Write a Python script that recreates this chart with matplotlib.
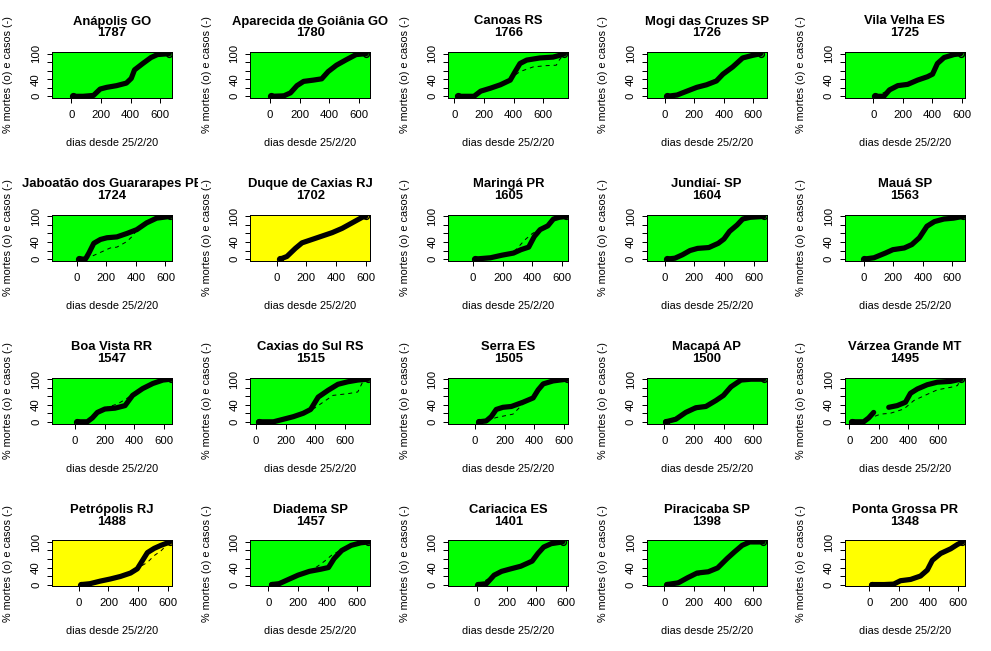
import numpy as np
import matplotlib
matplotlib.use('Agg')
import matplotlib.pyplot as plt
from matplotlib.transforms import Bbox, TransformedBbox

plt.rcParams['font.family'] = ['Liberation Sans', 'DejaVu Sans']

NAN = np.nan

# ---------------- data ----------------
cities = ["Anápolis GO", "Aparecida de Goiânia GO", "Canoas RS", "Mogi das Cruzes SP", "Vila Velha ES",
          "Jaboatão dos Guararapes PE", "Duque de Caxias RJ", "Maringá PR", "Jundiaí- SP", "Mauá SP",
          "Boa Vista RR", "Caxias do Sul RS", "Serra ES", "Macapá AP", "Várzea Grande MT",
          "Petrópolis RJ", "Diadema SP", "Cariacica ES", "Piracicaba SP", "Ponta Grossa PR"]
numbers = [1787, 1780, 1766, 1726, 1725, 1724, 1702, 1605, 1604, 1563,
           1547, 1515, 1505, 1500, 1495, 1488, 1457, 1401, 1398, 1348]
flag = ["g", "g", "g", "g", "g", "g", "y", "g", "g", "g",
        "g", "g", "g", "g", "g", "y", "g", "g", "g", "y"]

anapolis_d_days = [13, 80, 150, 195, 239, 306, 372, 405, 427, 483, 538, 582, 660]
anapolis_d_pct = [0, 0, 2, 17, 21, 25, 31, 42, 62, 77, 91, 98, 100]
anapolis_c_days = [13, 150, 239, 330, 380, 405, 427, 483, 582, 660]
anapolis_c_pct = [0, 2, 21, 28, 35, 48, 62, 77, 97, 100]

aparecida_d_days = [9, 93, 138, 182, 227, 293, 349, 393, 449, 516, 582, 649]
aparecida_d_pct = [0, 1, 8, 25, 35, 38, 41, 58, 73, 86, 98, 100]
aparecida_c_days = [9, 138, 227, 349, 393, 449, 516, 582, 649]
aparecida_c_pct = [0, 8, 35, 41, 57, 70, 82, 95, 100]

canoas_d_days = [22, 133, 178, 244, 311, 378, 411, 444, 489, 578, 667, 711, 744]
canoas_d_pct = [0, 0, 12, 19, 27, 38, 58, 77, 85, 90, 92, 96, 100]
canoas_c_days = [22, 133, 178, 244, 311, 378, 411, 444, 533, 622, 689, 711, 744]
canoas_c_pct = [0, 0, 12, 19, 27, 38, 50, 58, 69, 72, 73, 86, 100]

mogi_d_days = [18, 84, 150, 217, 283, 350, 394, 460, 527, 593, 649]
mogi_d_pct = [0, 3, 12, 21, 27, 36, 52, 69, 90, 96, 100]
mogi_c_days = [18, 150, 283, 394, 460, 527, 593, 649]
mogi_c_pct = [0, 11, 26, 51, 69, 89, 96, 100]

vilavelha_d_days = [13, 72, 110, 166, 233, 300, 367, 401, 434, 479, 546, 591]
vilavelha_d_pct = [0, 0, 15, 25, 28, 38, 46, 52, 77, 91, 98, 100]
vilavelha_c_days = [13, 110, 166, 300, 401, 434, 479, 546, 591]
vilavelha_c_pct = [0, 14, 24, 37, 51, 76, 90, 98, 100]

jaboatao_d_days = [18, 60, 83, 116, 161, 205, 272, 339, 406, 473, 540, 629]
jaboatao_d_pct = [0, 0, 14, 37, 46, 50, 52, 60, 69, 85, 96, 100]
jaboatao_c_days = [60, 138, 227, 272, 339, 384, 406, 473, 540, 629]
jaboatao_c_pct = [0, 12, 26, 28, 41, 56, 69, 85, 95, 100]

duque_d_days = [23, 68, 125, 170, 238, 306, 374, 441, 509, 577, 600]
duque_d_pct = [0, 6, 25, 38, 46, 54, 62, 72, 85, 98, 100]
duque_c_days = [40, 80, 125, 170, 238, 374, 509, 600]
duque_c_pct = [0, 6, 22, 36, 45, 61, 84, 100]

maringa_d_days = [15, 118, 195, 273, 324, 376, 414, 453, 505, 543, 582, 628]
maringa_d_pct = [0, 3, 9, 14, 22, 28, 53, 69, 78, 94, 98, 100]
maringa_c_days = [15, 118, 195, 273, 298, 350, 401, 453, 505, 543, 582, 628]
maringa_c_pct = [0, 3, 9, 16, 25, 45, 60, 70, 79, 94, 98, 100]

jundiai_d_days = [18, 69, 120, 171, 222, 298, 362, 400, 438, 489, 527, 578, 668]
jundiai_d_pct = [0, 2, 10, 20, 25, 27, 37, 47, 65, 80, 94, 98, 100]
jundiai_c_days = [18, 120, 222, 362, 438, 527, 668]
jundiai_c_pct = [0, 9, 24, 36, 64, 93, 100]

maua_d_days = [6, 70, 147, 198, 275, 326, 377, 428, 479, 543, 607, 671]
maua_d_pct = [0, 3, 14, 22, 26, 34, 50, 77, 88, 94, 96, 100]
maua_c_days = [6, 147, 275, 377, 428, 479, 543, 607, 671]
maua_c_pct = [0, 13, 25, 49, 72, 86, 93, 96, 100]

boavista_d_days = [15, 83, 117, 151, 202, 270, 338, 389, 457, 526, 594, 645]
boavista_d_pct = [0, 0, 9, 22, 30, 32, 38, 62, 78, 90, 98, 100]
boavista_c_days = [15, 83, 117, 151, 202, 287, 338, 389, 457, 526, 594, 645]
boavista_c_pct = [0, 0, 9, 22, 32, 42, 52, 64, 78, 90, 98, 100]

caxias_d_days = [17, 117, 184, 251, 318, 368, 419, 486, 552, 619, 686, 753]
caxias_d_pct = [0, 0, 6, 12, 20, 29, 58, 74, 88, 94, 98, 100]
caxias_c_days = [17, 117, 184, 251, 318, 385, 452, 519, 619, 686, 720, 753]
caxias_c_pct = [0, 0, 6, 12, 20, 30, 46, 62, 66, 70, 94, 100]

serra_d_days = [25, 75, 109, 143, 188, 245, 324, 392, 426, 460, 527, 618]
serra_d_pct = [0, 2, 12, 29, 34, 36, 46, 56, 75, 89, 96, 100]
serra_c_days = [25, 75, 143, 256, 324, 392, 426, 460, 527, 618]
serra_c_pct = [0, 2, 10, 18, 42, 55, 74, 88, 96, 100]

macapa_d_days = [9, 77, 144, 212, 280, 348, 399, 449, 517, 585, 670]
macapa_d_pct = [0, 6, 22, 33, 36, 50, 62, 82, 98, 100, 100]
macapa_c_days = [9, 144, 280, 399, 517, 670]
macapa_c_pct = [0, 21, 35, 61, 97, 100]

varzea_d_days = [18, 97, 131, 165, 215, 267, 324, 380, 414, 460, 527, 595, 686, 754]
varzea_d_pct = [0, 0, 9, 22, NAN, 34, 38, 46, 67, 77, 87, 93, 95, 100]
varzea_c_days = [18, 75, 143, 211, 278, 369, 437, 505, 595, 686, 731, 754]
varzea_c_pct = [0, 1, 9, 18, 20, 30, 50, 61, 75, 81, 85, 100]

petropolis_d_days = [18, 75, 144, 212, 281, 349, 395, 429, 463, 509, 554, 600, 615]
petropolis_d_pct = [0, 2, 8, 13, 19, 27, 37, 56, 75, 85, 92, 98, 100]
petropolis_c_days = [18, 144, 281, 395, 429, 463, 509, 554, 600, 623]
petropolis_c_pct = [0, 8, 19, 37, 45, 52, 68, 79, 95, 100]

diadema_d_days = [21, 72, 123, 200, 277, 354, 406, 444, 496, 560, 624, 675]
diadema_d_pct = [0, 2, 10, 22, 31, 36, 40, 61, 80, 92, 98, 100]
diadema_c_days = [21, 123, 200, 277, 329, 380, 431, 496, 560, 624, 675]
diadema_c_pct = [0, 10, 22, 32, 42, 55, 70, 82, 92, 98, 100]

cariacica_d_days = [8, 64, 116, 167, 219, 296, 373, 412, 451, 502, 579]
cariacica_d_pct = [0, 2, 22, 31, 36, 43, 55, 73, 88, 96, 100]
cariacica_c_days = [8, 116, 219, 373, 451, 579]
cariacica_c_pct = [0, 21, 35, 54, 87, 100]

piracicaba_d_days = [17, 94, 157, 221, 297, 360, 424, 475, 526, 577, 666]
piracicaba_d_pct = [0, 4, 16, 27, 30, 39, 61, 77, 92, 100, 100]
piracicaba_c_days = [17, 157, 297, 360, 424, 475, 526, 577, 666]
piracicaba_c_pct = [0, 15, 29, 41, 63, 78, 92, 99, 100]

pontagrossa_d_days = [18, 100, 165, 211, 279, 346, 392, 426, 482, 550, 595, 629]
pontagrossa_d_pct = [0, 0, 1, 9, 12, 20, 34, 57, 73, 84, 94, 100]
pontagrossa_c_days = [18, 165, 279, 346, 392, 426, 482, 550, 629]
pontagrossa_c_pct = [0, 1, 12, 22, 36, 57, 72, 84, 100]

x_ticks = [0, 200, 400, 600]
y_ticks = [0, 20, 40, 60, 80, 100]
y_ticklabels = ["0", "", "40", "", "", "100"]

# layout (x-limits per panel)
xlims = [(-130, 680), (-134, 677), (-40, 771), (-122, 689), (-192, 619),
         (-166, 644), (-180, 631), (-166, 644), (-122, 688), (-127, 684),
         (-155, 655), (-40, 770), (-180, 630), (-120, 690), (-30, 781),
         (-181, 629), (-123, 688), (-193, 618), (-120, 691), (-165, 645)]

series = [
    (anapolis_d_days, anapolis_d_pct, anapolis_c_days, anapolis_c_pct),
    (aparecida_d_days, aparecida_d_pct, aparecida_c_days, aparecida_c_pct),
    (canoas_d_days, canoas_d_pct, canoas_c_days, canoas_c_pct),
    (mogi_d_days, mogi_d_pct, mogi_c_days, mogi_c_pct),
    (vilavelha_d_days, vilavelha_d_pct, vilavelha_c_days, vilavelha_c_pct),
    (jaboatao_d_days, jaboatao_d_pct, jaboatao_c_days, jaboatao_c_pct),
    (duque_d_days, duque_d_pct, duque_c_days, duque_c_pct),
    (maringa_d_days, maringa_d_pct, maringa_c_days, maringa_c_pct),
    (jundiai_d_days, jundiai_d_pct, jundiai_c_days, jundiai_c_pct),
    (maua_d_days, maua_d_pct, maua_c_days, maua_c_pct),
    (boavista_d_days, boavista_d_pct, boavista_c_days, boavista_c_pct),
    (caxias_d_days, caxias_d_pct, caxias_c_days, caxias_c_pct),
    (serra_d_days, serra_d_pct, serra_c_days, serra_c_pct),
    (macapa_d_days, macapa_d_pct, macapa_c_days, macapa_c_pct),
    (varzea_d_days, varzea_d_pct, varzea_c_days, varzea_c_pct),
    (petropolis_d_days, petropolis_d_pct, petropolis_c_days, petropolis_c_pct),
    (diadema_d_days, diadema_d_pct, diadema_c_days, diadema_c_pct),
    (cariacica_d_days, cariacica_d_pct, cariacica_c_days, cariacica_c_pct),
    (piracicaba_d_days, piracicaba_d_pct, piracicaba_c_days, piracicaba_c_pct),
    (pontagrossa_d_days, pontagrossa_d_pct, pontagrossa_c_days, pontagrossa_c_pct),
]

bg_colors = {"g": "#00FF00", "y": "#FFFF00"}

# ---------------- figure ----------------
W, H = 991, 651
fig = plt.figure(figsize=(W / 100, H / 100), dpi=100)
PW, PH = W / 5, H / 4
px2pt = 72 / 100

TITLE_FS = 9.4
LAB_FS = 7.8
TICK_FS = 8.2

for i in range(20):
    r, c = divmod(i, 5)
    x0, y0 = c * PW, r * PH
    left, top = x0 + 52, y0 + 52
    ax = fig.add_axes([left / W, 1 - (top + 46) / H, 120 / W, 46 / H])
    ax.set_facecolor(bg_colors[flag[i]])
    dd, dp, cd, cp = series[i]
    # deaths: dense open circles -> thick band
    ax.plot(dd, dp, color="black", lw=5.2 * px2pt, solid_capstyle="round",
            solid_joinstyle="round", zorder=3)
    ax.plot(dd, dp, ls="none", marker="o", markevery=[0, len(dd) - 1], ms=5.8 * px2pt,
            mfc="none", mec="black", mew=1.4 * px2pt, zorder=3)
    # cases: dashed line
    ax.plot(cd, cp, color="black", lw=1.0 * px2pt, ls=(0, (4, 4)), zorder=4)
    ax.set_xlim(*xlims[i])
    ax.set_ylim(-4, 104)
    ax.set_xticks(x_ticks)
    ax.set_yticks(y_ticks)
    ax.set_yticklabels(y_ticklabels)
    for s in ax.spines.values():
        s.set_linewidth(1.0 * px2pt)
        s.set_color("black")
    ax.tick_params(axis="both", direction="out", length=5 * px2pt, width=1.0 * px2pt,
                   labelsize=TICK_FS, colors="black")
    ax.tick_params(axis="x", pad=7 * px2pt)
    ax.tick_params(axis="y", pad=6 * px2pt)
    for lab in ax.get_yticklabels():
        lab.set_rotation(90)
        lab.set_va("center")
        lab.set_ha("right")

    clip = TransformedBbox(Bbox.from_extents(x0 / W, 1 - (y0 + PH) / H, (x0 + PW) / W, 1 - y0 / H),
                           fig.transFigure)
    cx = (left + 60) / W
    t1 = fig.text(cx, 1 - (y0 + 21.5) / H, cities[i], ha="center", va="center",
                  fontsize=TITLE_FS, fontweight="bold")
    t2 = fig.text(cx, 1 - (y0 + 33.5) / H, str(numbers[i]), ha="center", va="center",
                  fontsize=TITLE_FS, fontweight="bold")
    for t in (t1, t2):
        t.set_clip_box(clip)
        t.set_clip_on(True)
    fig.text(cx, 1 - (y0 + 143) / H, "dias desde 25/2/20", ha="center", va="center",
             fontsize=LAB_FS)
    yl = fig.text((x0 + 8.5) / W, 1 - (y0 + 75) / H, "% mortes (o) e casos (-)", ha="center",
                  va="center", rotation=90, fontsize=LAB_FS)
    yl.set_clip_box(clip)
    yl.set_clip_on(True)

fig.savefig("out.png", dpi=100)
